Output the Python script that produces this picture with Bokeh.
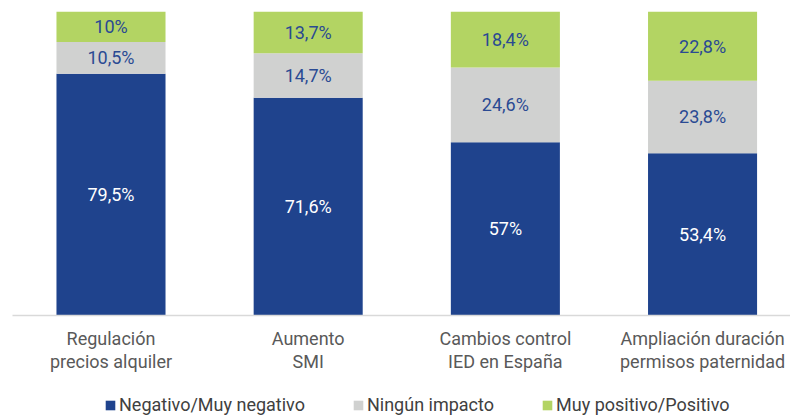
from bokeh.plotting import figure
from bokeh.models import ColumnDataSource, Range1d, FixedTicker, Legend, LegendItem, LabelSet
from bokeh.layouts import column
from bokeh.embed import file_html
from bokeh.resources import INLINE
from bokeh.core.properties import value

categories = ["Regulación\nprecios alquiler", "Aumento\nSMI", "Cambios control\nIED en España", "Ampliación duración\npermisos paternidad"]
series_names = ["Negativo/Muy negativo", "Ningún impacto", "Muy positivo/Positivo"]
negativo = [79.5, 71.6, 57.0, 53.4]
ninguno = [10.5, 14.7, 24.6, 23.8]
positivo = [10.0, 13.7, 18.4, 22.8]

colors = ["#1F438D", "#D0D1D0", "#B3D463"]
label_colors = ["#FFFFFF", "#2A4A93", "#2A4A93"]
FONT = "Roboto"

def fmt(v):
    if abs(v - round(v)) < 1e-9:
        return f"{int(round(v))}%"
    return f"{v:.1f}".replace(".", ",") + "%"

xs = list(range(len(categories)))

p = figure(frame_width=778, frame_height=304, output_backend="svg", toolbar_location=None,
           x_range=Range1d(-0.4995, 3.446), y_range=Range1d(0, 100),
           min_border_left=12, min_border_right=0, min_border_top=11, min_border_bottom=70)
p.outline_line_color = None
p.xgrid.visible = False
p.ygrid.visible = False
p.yaxis.visible = False

series = [negativo, ninguno, positivo]
bottom = [0.0] * len(xs)
for vals, col, lcol in zip(series, colors, label_colors):
    top = [b + v for b, v in zip(bottom, vals)]
    src = ColumnDataSource(dict(x=xs, bottom=bottom, top=top,
                                mid=[(b + t) / 2 for b, t in zip(bottom, top)],
                                lab=[fmt(v) for v in vals]))
    p.vbar(x="x", bottom="bottom", top="top", width=0.553, source=src,
           fill_color=col, line_color=None)
    p.add_layout(LabelSet(x="x", y="mid", text="lab", source=src, text_align="center",
                          text_baseline="middle", text_color=lcol, text_font=value(FONT),
                          text_font_size="18px"))
    bottom = top

ax = p.xaxis[0]
ax.ticker = FixedTicker(ticks=xs)
ax.major_label_overrides = {i: c for i, c in zip(xs, categories)}
ax.major_tick_line_color = None
ax.minor_tick_line_color = None
ax.axis_line_color = "#D9D9D9"
ax.axis_line_width = 1.5
ax.major_label_text_font = FONT
ax.major_label_text_font_size = "18px"
ax.major_label_text_color = "#595959"
ax.major_label_text_line_height = 1.1
ax.major_label_standoff = 6

# legend strip below the chart (proxy renderers sit outside the visible range)
pl = figure(width=790, height=33, output_backend="svg", toolbar_location=None,
            x_range=Range1d(0, 1), y_range=Range1d(0, 1),
            min_border_left=0, min_border_right=0, min_border_top=0, min_border_bottom=0)
pl.outline_line_color = None
pl.xgrid.visible = False
pl.ygrid.visible = False
pl.xaxis.visible = False
pl.yaxis.visible = False
leg_renderers = [pl.vbar(x=[5], top=[0.5], width=0.1, fill_color=c, line_color=None) for c in colors]

legend = Legend(items=[LegendItem(label=n, renderers=[r]) for n, r in zip(series_names, leg_renderers)],
                orientation="horizontal", location=(92, 3), spacing=47,
                glyph_width=12, glyph_height=12, label_standoff=3, label_height=18,
                label_text_font=FONT, label_text_font_size="18px", label_text_color="#404040",
                border_line_color=None, background_fill_alpha=0, padding=0, margin=0)
pl.add_layout(legend)

layout = column(p, pl, spacing=0)
open("out.html", "w").write(file_html(layout, INLINE))
